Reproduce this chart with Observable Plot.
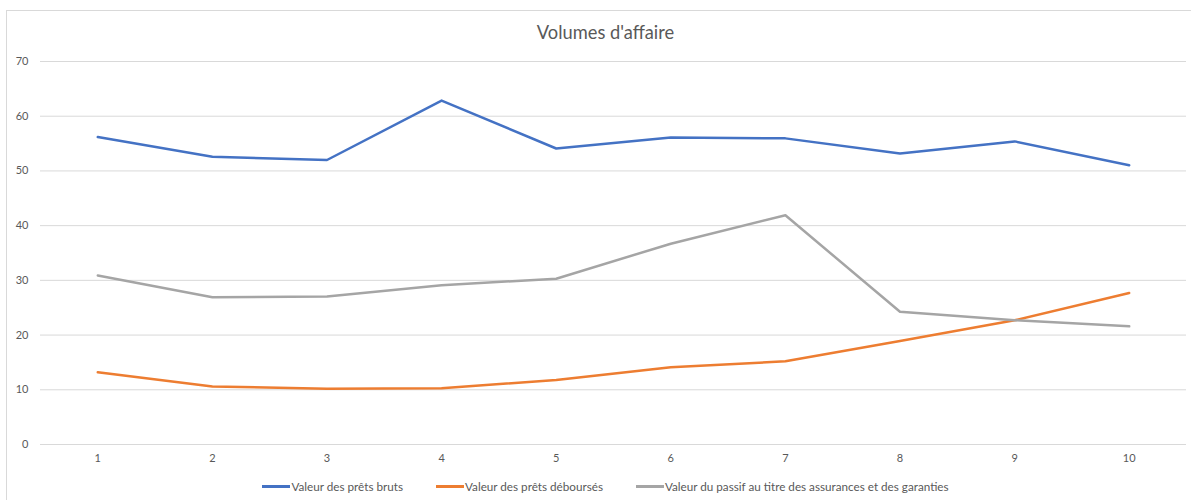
<!DOCTYPE html>
<html>
<head>
<meta charset="utf-8">
<script src="https://cdn.jsdelivr.net/npm/d3@7"></script>
<script src="https://cdn.jsdelivr.net/npm/@observablehq/plot@0.6"></script>
<style>
  html, body { margin: 0; padding: 0; background: #fff; }
  body { font-family: Lato, "Liberation Sans", sans-serif; }
  #wrap { position: relative; width: 1191px; height: 500px; overflow: hidden; }
  #frame { position: absolute; left: 6px; top: 10px; width: 1200px; height: 500px;
           border-left: 1px solid #d9d9d9; border-top: 1px solid #d9d9d9; }
  #title { position: absolute; top: 21px; left: 0; width: 1211px; text-align: center;
           font-size: 18.3px; color: #595959; }
  #chart { position: absolute; left: 0; top: 50px; }
  #chart svg text { fill: #595959; }
  #legend { position: absolute; top: 479px; left: 0; width: 1211px; display: flex;
            justify-content: center; gap: 33px; font-size: 11.7px; color: #595959; }
  .item { display: flex; align-items: center; }
  .sw { display: inline-block; width: 28px; height: 3px; margin-right: 1px; }
</style>
</head>
<body>
<div id="wrap">
  <div id="frame"></div>
  <div id="title">Volumes d'affaire</div>
  <div id="chart"></div>
  <div id="legend"></div>
</div>
<script>
const periods = [1, 2, 3, 4, 5, 6, 7, 8, 9, 10];
const seriesNames = [
  "Valeur des prêts bruts",
  "Valeur des prêts déboursés",
  "Valeur du passif au titre des assurances et des garanties"
];
const pretsBruts = [56.2, 52.6, 52.0, 62.85, 54.1, 56.1, 55.95, 53.2, 55.4, 51.05];
const pretsDebourses = [13.2, 10.6, 10.2, 10.3, 11.8, 14.1, 15.2, 18.9, 22.7, 27.7];
const passif = [30.9, 26.9, 27.05, 29.1, 30.3, 36.7, 41.9, 24.25, 22.7, 21.6];
const yTicks = [0, 10, 20, 30, 40, 50, 60, 70];
const colors = ["#4472C4", "#ED7D31", "#A5A5A5"];

const allSeries = [pretsBruts, pretsDebourses, passif];
const rows = [];
allSeries.forEach((vals, si) => {
  vals.forEach((v, i) => rows.push({ period: periods[i], value: v, series: seriesNames[si] }));
});

const chart = Plot.plot({
  width: 1191,
  height: 420,
  marginTop: 11,
  marginBottom: 26,
  marginLeft: 40,
  marginRight: 5,
  style: { fontFamily: "Lato, 'Liberation Sans', sans-serif", fontSize: "11px", color: "#595959", background: "transparent" },
  x: { type: "point", domain: periods, padding: 0.5, round: false, label: null, tickSize: 0, tickPadding: 10 },
  y: { domain: [0, 70], ticks: yTicks, label: null, tickSize: 0, tickPadding: 12 },
  color: { domain: seriesNames, range: colors },
  marks: [
    Plot.ruleY(yTicks, { stroke: "#d9d9d9", strokeWidth: 1, strokeOpacity: 1 }),
    Plot.axisX({ tickSize: 0, tickPadding: 10 }),
    Plot.axisY({ ticks: yTicks, tickSize: 0, tickPadding: 12 }),
    Plot.line(rows, { x: "period", y: "value", z: "series", stroke: "series", strokeWidth: 2.5, strokeLinejoin: "round", strokeLinecap: "round" })
  ]
});
document.getElementById("chart").appendChild(chart);

const legend = document.getElementById("legend");
seriesNames.forEach((name, i) => {
  const item = document.createElement("div");
  item.className = "item";
  const sw = document.createElement("span");
  sw.className = "sw";
  sw.style.background = colors[i];
  const label = document.createElement("span");
  label.textContent = name;
  item.appendChild(sw);
  item.appendChild(label);
  legend.appendChild(item);
});
</script>
</body>
</html>
